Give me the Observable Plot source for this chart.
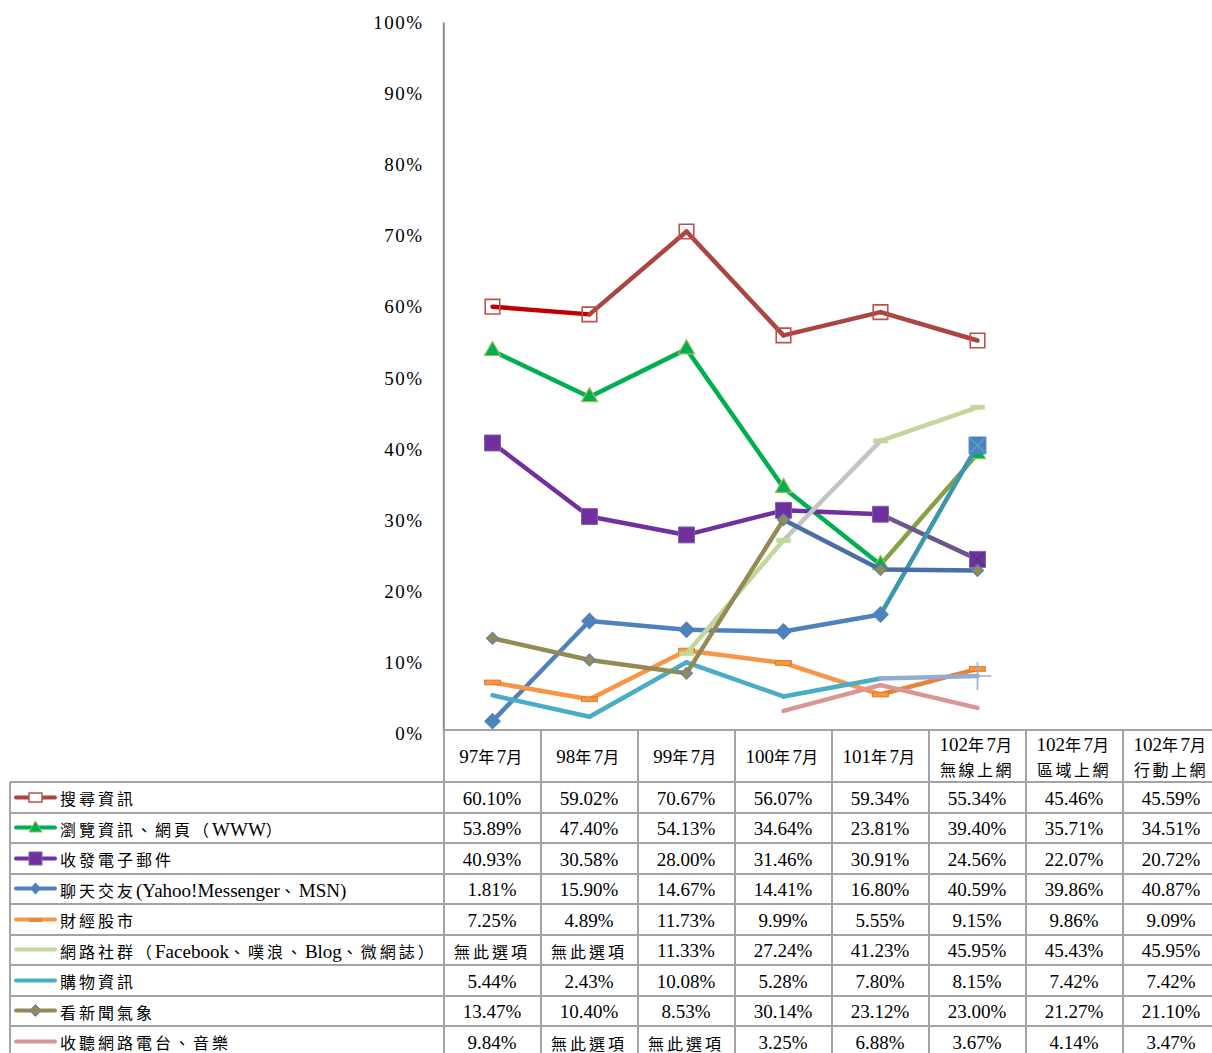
<!DOCTYPE html>
<html><head><meta charset="utf-8">
<script src="https://cdn.jsdelivr.net/npm/d3@7"></script>
<script src="https://cdn.jsdelivr.net/npm/@observablehq/plot@0.6"></script>
<style>
html,body{margin:0;padding:0;background:#fff;}
#wrap{position:relative;width:1212px;height:1053px;overflow:hidden;font-family:'Liberation Serif','Times New Roman','Noto Sans CJK TC',serif;color:#000;background:#fff;}
#wrap > svg{position:absolute;left:0;top:0;}
.cell{position:absolute;box-sizing:border-box;display:flex;flex-direction:column;align-items:center;justify-content:center;text-align:center;font-size:19px;line-height:24px;white-space:nowrap;padding-top:3px;}
.hdr{padding-top:1px;}
.lab{flex-direction:row;justify-content:flex-start;padding-left:4px;padding-top:3px;}
.cjk{font-family:'Noto Sans CJK TC',sans-serif;font-size:16px;letter-spacing:3px;}
.hdr .cjk{letter-spacing:2.5px;}
.hl{position:absolute;height:2px;background:#a3a3a3;}
.vl{position:absolute;width:2px;background:#a3a3a3;}
</style></head><body><div id="wrap"></div>
<script>
// ---------- data ----------
const categories = ["97年7月","98年7月","99年7月","100年7月","101年7月","102年7月\n無線上網","102年7月\n區域上網","102年7月\n行動上網"];
const seriesNames = ["搜尋資訊","瀏覽資訊、網頁（WWW）","收發電子郵件","聊天交友(Yahoo!Messenger、MSN)","財經股市","網路社群（Facebook、噗浪、Blog、微網誌）","購物資訊","看新聞氣象","收聽網路電台、音樂"];
const searchInfo = [60.10,59.02,70.67,56.07,59.34,55.34,45.46,45.59];
const browseWeb  = [53.89,47.40,54.13,34.64,23.81,39.40,35.71,34.51];
const email      = [40.93,30.58,28.00,31.46,30.91,24.56,22.07,20.72];
const chat       = [1.81,15.90,14.67,14.41,16.80,40.59,39.86,40.87];
const finance    = [7.25,4.89,11.73,9.99,5.55,9.15,9.86,9.09];
const social     = [null,null,11.33,27.24,41.23,45.95,45.43,45.95];
const shopping   = [5.44,2.43,10.08,5.28,7.80,8.15,7.42,7.42];
const news       = [13.47,10.40,8.53,30.14,23.12,23.00,21.27,21.10];
const radio      = [9.84,null,null,3.25,6.88,3.67,4.14,3.47];
const yTicks = [0,10,20,30,40,50,60,70,80,90,100];
const noOptionLabel = "無此選項";
const plottedCount = 6;

const seriesValues = [searchInfo, browseWeb, email, chat, finance, social, shopping, news, radio];

// ---------- styles ----------
const lineColors = ["#ab4542","#00b050","#7030a0","#4f81bd","#f79646","#c3d69b","#4bacc6","#948a54","#d99694"];
const segmentColors = [{0:"#c00000"},{4:"#86a047"},{4:"#6b5690"},{4:"#3d96b0"},{4:"#e5843a"},{3:"#c4c4c4"},{4:"#95abd2"},{3:"#4a6ea6",4:"#4a6ea6"},{}];
const dash = {draw(ctx, size){const s=Math.sqrt(size); const w=s, h=Math.max(3, s*0.3); ctx.rect(-w/2,-h/2,w,h);}};
const all6 = [0,1,2,3,4,5];
const markerSpecs = [
  [{idx:all6, symbol:"square", r:8.2, fill:"none", stroke:"#c0504d", strokeWidth:1.6}],
  [{idx:all6, symbol:"triangle", r:6, fill:"#00b050", stroke:"#9bbb59", strokeWidth:1.2}],
  [{idx:all6, symbol:"square", r:9, fill:"#7030a0", stroke:"#8064a2", strokeWidth:1},
   {idx:[5], symbol:"times", r:7, fill:"none", stroke:"#4b3a78", strokeWidth:1.2}],
  [{idx:[0,1,2,3,4], symbol:"square", rotate:45, r:6.2, fill:"#4f81bd", stroke:"#4f81bd", strokeWidth:1},
   {idx:[5], symbol:"square", r:9.5, fill:"#4f81bd", stroke:"#4f81bd", strokeWidth:1},
   {idx:[5], symbol:"times", r:7, fill:"none", stroke:"#4bacc6", strokeWidth:1.2}],
  [{idx:all6, symbol:dash, r:9, fill:"#f79646", stroke:"#e46c0a", strokeWidth:0.8}],
  [{idx:[2,3,4,5], symbol:dash, r:8, fill:"#c3d69b", stroke:"#c3d69b", strokeWidth:0.5}],
  [{idx:[5], symbol:"plus", r:9, fill:"none", stroke:"#95abd2", strokeWidth:1.6}],
  [{idx:all6, symbol:"square", rotate:45, r:4.8, fill:"#948a54", stroke:"#4f81bd", strokeWidth:1}],
  []
];
const legendMarkers = [
  '<rect x="15" y="3" width="13" height="9" fill="#fff" stroke="#c0504d" stroke-width="1.5"/>',
  '<path d="M21.5 1 L28 12 L15 12 Z" fill="#00b050" stroke="#9bbb59" stroke-width="1"/>',
  '<rect x="15" y="1" width="13" height="13" fill="#7030a0" stroke="#8064a2"/>',
  '<path d="M21.5 1.5 L27 7.5 L21.5 13.5 L16 7.5 Z" fill="#4f81bd"/>',
  '<rect x="15" y="6" width="13" height="4" fill="#e8883a"/>',
  '', '',
  '<path d="M21.5 1.5 L27 7.5 L21.5 13.5 L16 7.5 Z" fill="#948a54" stroke="#4f81bd" stroke-width="1"/>',
  ''
];

// ---------- build marks ----------
const marks = [];
seriesValues.forEach((v, s) => {
  const segs = [];
  for (let i = 0; i < plottedCount - 1; i++) {
    if (v[i] != null && v[i+1] != null) {
      segs.push({x1: categories[i], y1: v[i], x2: categories[i+1], y2: v[i+1], color: segmentColors[s][i] || lineColors[s]});
    }
  }
  marks.push(Plot.link(segs, {x1:"x1", y1:"y1", x2:"x2", y2:"y2", stroke:"color", strokeWidth:4.5, strokeLinecap:"round"}));
  markerSpecs[s].forEach(m => {
    const pts = m.idx.filter(i => v[i] != null).map(i => ({x: categories[i], y: v[i]}));
    const opts = {x:"x", y:"y", symbol:m.symbol, r:m.r, fill:m.fill, stroke:m.stroke, strokeWidth:m.strokeWidth};
    if (m.rotate) opts.rotate = m.rotate;
    marks.push(Plot.dot(pts, opts));
  });
});

const xRange = [441.5, 1220.5];
const step = (xRange[1] - xRange[0]) / categories.length;

const chart = Plot.plot({
  width: 1212, height: 740,
  marginLeft: 441, marginRight: 0, marginTop: 22, marginBottom: 7,
  style: {fontFamily: "'Liberation Serif','Times New Roman',serif", fontSize: "19px", color: "#000", background: "transparent", overflow: "visible"},
  x: {type: "point", domain: categories, range: xRange, padding: 0.5, axis: null},
  y: {domain: [0, 100], range: [733.5, 22.5]},
  color: {type: "identity"},
  marks: [
    Plot.ruleX([categories[0]], {dx: -step/2, y1: 0, y2: 100, stroke: "#8c8c8c", strokeWidth: 2}),
    Plot.axisY({ticks: yTicks, tickFormat: d => d + "%", tickSize: 0, tickPadding: 18, fontSize: 19, fill: "#000"}),
    ...marks
  ]
});
chart.querySelectorAll('g[aria-label="y-axis tick label"] text').forEach(t => t.style.letterSpacing = "1.5px");

const wrap = document.getElementById("wrap");
wrap.appendChild(chart);

// ---------- table ----------
const xs = chart.scale("x");
const centers = categories.map(c => xs.apply(c));
const st = centers[1] - centers[0];
const colLeft = centers.map(c => c - st/2);
const rightEnd = colLeft[colLeft.length-1] + st;
const tableLeft = 10, headerTop = 730, headerBottom = 782, rowH = 30.5;
const bottom = headerBottom + rowH * seriesNames.length;

const cjk = s => s.replace(/([\u3000-\u303f\u4e00-\u9fff\uff00-\uffef]+)/g, '<span class="cjk">$1</span>');
function add(cls, style, html) {
  const d = document.createElement("div");
  d.className = cls;
  Object.assign(d.style, style);
  if (html != null) d.innerHTML = html;
  wrap.appendChild(d);
  return d;
}
// header cells
categories.forEach((c, j) => {
  add("cell hdr", {left: colLeft[j]+"px", top: headerTop+"px", width: st+"px", height: (headerBottom-headerTop)+"px"},
      c.split("\n").map(t => "<div>" + cjk(t) + "</div>").join(""));
});
// rows
seriesNames.forEach((name, r) => {
  const top = headerBottom + r * rowH;
  const sw = '<svg width="43" height="15" style="flex:none;margin-right:3px;margin-top:-3px"><line x1="2" y1="7.5" x2="41" y2="7.5" stroke="' + lineColors[r] + '" stroke-width="4" stroke-linecap="round"/>' + legendMarkers[r] + '</svg>';
  add("cell lab", {left: tableLeft+"px", top: top+"px", width: (colLeft[0]-tableLeft)+"px", height: rowH+"px"}, sw + "<span>" + cjk(name) + "</span>");
  seriesValues[r].forEach((v, j) => {
    const txt = v == null ? cjk(noOptionLabel) : v.toFixed(2) + "%";
    add("cell", {left: colLeft[j]+"px", top: top+"px", width: st+"px", height: rowH+"px"}, txt);
  });
});
// grid lines
add("hl", {left: colLeft[0]+"px", top: (headerTop-1)+"px", width: (rightEnd-colLeft[0])+"px"});
for (let r = 0; r <= seriesNames.length; r++) {
  add("hl", {left: tableLeft+"px", top: (headerBottom + r*rowH - 1)+"px", width: (rightEnd-tableLeft)+"px"});
}
add("vl", {left: (tableLeft-1)+"px", top: headerBottom+"px", height: (bottom-headerBottom)+"px"});
colLeft.concat([rightEnd]).forEach(x => add("vl", {left: (x-1)+"px", top: headerTop+"px", height: (bottom-headerTop)+"px"}));
</script></body></html>
